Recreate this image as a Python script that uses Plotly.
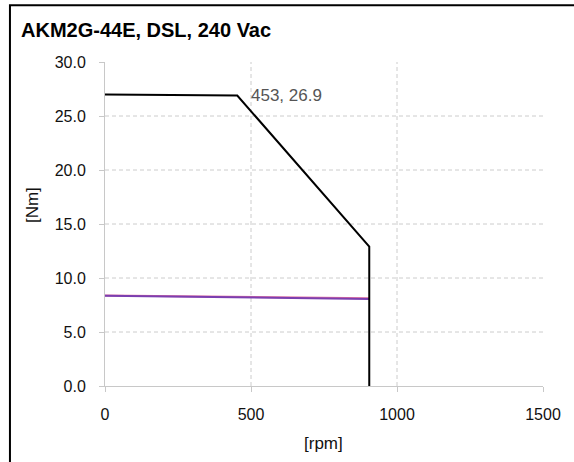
import plotly.graph_objects as go

title = "AKM2G-44E, DSL, 240 Vac"
peak_rpm = [0, 453, 905, 905]
peak_nm = [27.0, 26.9, 12.9, 0.0]
cont2_rpm = [0, 905]
cont2_nm = [8.38, 8.12]
cont_rpm = [0, 905]
cont_nm = [8.36, 8.06]
x_ticks = [0, 500, 1000, 1500]
y_ticks = [0, 5, 10, 15, 20, 25, 30]
y_tick_text = ["0.0", "5.0", "10.0", "15.0", "20.0", "25.0", "30.0"]
corner_label = "453, 26.9"
x_title = "[rpm]"
y_title = "[Nm]"

FONT = "Liberation Sans, Arial"

fig = go.Figure()
fig.add_trace(go.Scatter(x=cont2_rpm, y=cont2_nm, mode="lines",
                         line=dict(color="#e06fa0", width=2), hoverinfo="skip"))
fig.add_trace(go.Scatter(x=cont_rpm, y=cont_nm, mode="lines",
                         line=dict(color="#7b3fb0", width=2), hoverinfo="skip"))
fig.add_trace(go.Scatter(x=peak_rpm, y=peak_nm, mode="lines",
                         line=dict(color="#000000", width=2), hoverinfo="skip"))

fig.add_annotation(x=peak_rpm[1], y=peak_nm[1], text=corner_label, showarrow=False,
                   xanchor="left", yanchor="middle", xshift=12, yshift=0,
                   font=dict(family=FONT, size=17, color="#555555"))

fig.add_annotation(xref="paper", yref="paper", x=0.499, y=-0.176, text=x_title, showarrow=False,
                   xanchor="center", yanchor="middle", font=dict(family=FONT, size=17, color="#111111"))
fig.add_annotation(xref="paper", yref="paper", x=-0.164, y=0.559, text=y_title, showarrow=False,
                   textangle=-90, xanchor="center", yanchor="middle",
                   font=dict(family=FONT, size=17, color="#111111"))

# grid lines (dashed), excluding the range edges
for xv in x_ticks[1:-1]:
    fig.add_shape(type="line", xref="x", yref="paper", x0=xv, x1=xv, y0=0, y1=1,
                  line=dict(color="#cccccc", width=1, dash="4px,3px"), layer="below")
for yv in y_ticks[1:-1]:
    fig.add_shape(type="line", xref="paper", yref="y", x0=0, x1=1, y0=yv, y1=yv,
                  line=dict(color="#cccccc", width=1, dash="4px,3px"), layer="below")

# outer frame (cropped on right and bottom)
fig.add_shape(type="rect", xref="paper", yref="paper", x0=-0.217, x1=1.3, y0=-0.5, y1=1.175,
              line=dict(color="#000000", width=2), fillcolor="rgba(0,0,0,0)")

fig.update_layout(
    width=574, height=462,
    margin=dict(l=105, r=31, t=62, b=76),
    paper_bgcolor="white", plot_bgcolor="white",
    showlegend=False,
    title=dict(text="<b>" + title + "</b>", x=21 / 574, xanchor="left", y=1 - 30 / 462, yanchor="middle",
               font=dict(family=FONT, size=20, color="#000000")),
    font=dict(family=FONT, size=16, color="#111111"),
)
fig.update_xaxes(range=[0, 1500], tickvals=x_ticks, showgrid=False, zeroline=False,
                 showline=True, linecolor="#c8c8c8", linewidth=1,
                 ticks="outside", ticklen=5, tickcolor="#c8c8c8", ticklabelstandoff=9,
                 tickfont=dict(family=FONT, size=16, color="#111111"))
fig.update_yaxes(range=[0, 30], tickvals=y_ticks, ticktext=y_tick_text, showgrid=False, zeroline=False,
                 showline=True, linecolor="#c8c8c8", linewidth=1,
                 ticks="outside", ticklen=5, tickcolor="#c8c8c8", ticklabelstandoff=10,
                 tickfont=dict(family=FONT, size=16, color="#111111"))

fig.write_html("out.html", config={"displayModeBar": False},
               post_script="document.body.style.margin='0px';")
